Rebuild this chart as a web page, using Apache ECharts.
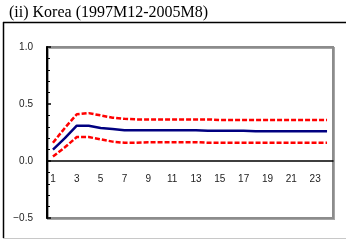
<!DOCTYPE html>
<html>
<head>
<meta charset="utf-8">
<script src="https://cdn.jsdelivr.net/npm/echarts@6/dist/echarts.min.js"></script>
<style>
  html, body { margin: 0; padding: 0; background: #fff; }
  #myChart { width: 346px; height: 241px; }
</style>
</head>
<body>
<div id="myChart"></div>
<script>
// horizon (months) 1..24
let months = ['1','2','3','4','5','6','7','8','9','10','11','12','13','14','15','16','17','18','19','20','21','22','23','24']
// impulse response and confidence bands
let response = [0.10, 0.20, 0.31, 0.31, 0.29, 0.28, 0.27, 0.27, 0.27, 0.27, 0.27, 0.27, 0.27, 0.265, 0.265, 0.265, 0.265, 0.26, 0.26, 0.26, 0.26, 0.26, 0.26, 0.26]
let upper = [0.16, 0.29, 0.41, 0.42, 0.40, 0.38, 0.37, 0.365, 0.365, 0.365, 0.365, 0.365, 0.365, 0.365, 0.36, 0.36, 0.36, 0.36, 0.36, 0.36, 0.36, 0.36, 0.36, 0.36]
let lower = [0.04, 0.12, 0.21, 0.21, 0.19, 0.17, 0.16, 0.16, 0.165, 0.165, 0.165, 0.165, 0.165, 0.16, 0.16, 0.16, 0.16, 0.16, 0.16, 0.16, 0.16, 0.16, 0.16, 0.16]

let myChart = echarts.init(document.getElementById('myChart'))

let dashed = {
    type: 'line',
    symbol: 'none',
    silent: true,
    lineStyle: { color: '#ff0000', width: 2.5, type: [5, 2] }
}

let gridBottom = 23

let option = {
    animation: false,
    title: {
        text: '(ii) Korea (1997M12-2005M8)',
        left: 4,
        top: 0,
        textStyle: {
            fontFamily: 'Liberation Serif',
            fontSize: 16,
            fontWeight: 'normal',
            color: '#000'
        }
    },
    graphic: [
        { type: 'line', shape: { x1: 3, y1: 22.5, x2: 346, y2: 22.5 }, style: { stroke: '#000', lineWidth: 1.5 } },
        { type: 'line', shape: { x1: 3.5, y1: 22, x2: 3.5, y2: 238 }, style: { stroke: '#000', lineWidth: 1.5 } },
        { type: 'line', shape: { x1: 3, y1: 238.5, x2: 346, y2: 238.5 }, style: { stroke: '#c8c8c8', lineWidth: 1 } }
    ],
    grid: {
        left: 47,
        top: 47,
        right: 13,
        bottom: gridBottom,
        show: true,
        borderColor: '#8c8c8c',
        borderWidth: 2,
        shadowColor: 'rgba(0,0,0,0.35)',
        shadowOffsetX: 1,
        shadowOffsetY: 1
    },
    xAxis: {
        type: 'category',
        data: months,
        boundaryGap: true,
        axisLine: { onZero: false, lineStyle: { color: '#000', width: 1.5 } },
        axisTick: { inside: true, length: 3, interval: 0, lineStyle: { color: '#000' } },
        axisLabel: {
            interval: 1,
            margin: 13,
            color: '#222',
            fontSize: 10,
            fontFamily: 'Liberation Sans'
        },
        splitLine: { show: false }
    },
    yAxis: {
        type: 'value',
        min: -0.5,
        max: 1.0,
        interval: 0.5,
        axisLine: { show: true, lineStyle: { color: '#000', width: 2 } },
        axisTick: { show: true, inside: true, length: 4, lineStyle: { color: '#000', width: 1.5 } },
        minorTick: { show: true, splitNumber: 5, length: 3, lineStyle: { color: '#000' } },
        axisLabel: {
            color: '#222',
            fontSize: 10,
            fontFamily: 'Liberation Sans',
            margin: 14,
            formatter: v => (v < 0 ? '\u2212' + Math.abs(v).toFixed(1) : v.toFixed(1))
        },
        splitLine: { show: false }
    },
    series: [
        Object.assign({ name: 'upper', data: upper }, dashed),
        Object.assign({ name: 'lower', data: lower }, dashed),
        {
            name: 'response',
            type: 'line',
            symbol: 'none',
            data: response,
            lineStyle: { color: '#000080', width: 2.5 }
        }
    ]
}
myChart.setOption(option)

// move the category axis (line, ticks and labels) up to where y = 0 sits
let zeroY = myChart.convertToPixel({ yAxisIndex: 0 }, 0)
let bottomY = myChart.getHeight() - gridBottom
myChart.setOption({ xAxis: { offset: -(bottomY - zeroY) } })

window.addEventListener('resize', () => {
    myChart.resize()
})
</script>
</body>
</html>
